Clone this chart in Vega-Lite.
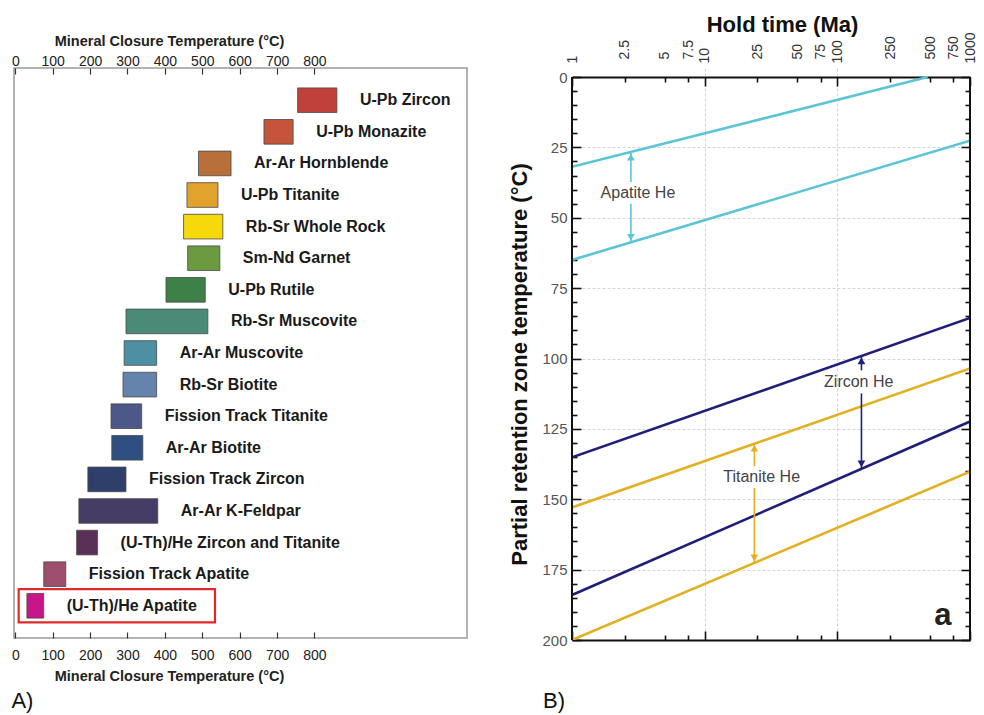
{
  "$schema": "https://vega.github.io/schema/vega-lite/v6.json",
  "background": "white",
  "padding": {"left": 10, "top": 13, "right": 0, "bottom": 0},
  "spacing": 40,
  "resolve": {"scale": {"color": "independent"}},
  "config": {"font": "Liberation Sans", "view": {"stroke": null}},
  "datasets": {
    "closure": [
      {"name": "U-Pb Zircon", "lo": 755, "hi": 860},
      {"name": "U-Pb Monazite", "lo": 665, "hi": 743},
      {"name": "Ar-Ar Hornblende", "lo": 490, "hi": 577},
      {"name": "U-Pb Titanite", "lo": 459, "hi": 542},
      {"name": "Rb-Sr Whole Rock", "lo": 450, "hi": 555},
      {"name": "Sm-Nd Garnet", "lo": 461, "hi": 547},
      {"name": "U-Pb Rutile", "lo": 403, "hi": 508},
      {"name": "Rb-Sr Muscovite", "lo": 296, "hi": 515},
      {"name": "Ar-Ar Muscovite", "lo": 291, "hi": 378},
      {"name": "Rb-Sr Biotite", "lo": 288, "hi": 378},
      {"name": "Fission Track Titanite", "lo": 256, "hi": 338},
      {"name": "Ar-Ar Biotite", "lo": 258, "hi": 341},
      {"name": "Fission Track Zircon", "lo": 194, "hi": 296},
      {"name": "Ar-Ar K-Feldpar", "lo": 170, "hi": 381},
      {"name": "(U-Th)/He Zircon and Titanite", "lo": 164, "hi": 220},
      {"name": "Fission Track Apatite", "lo": 76, "hi": 135},
      {"name": "(U-Th)/He Apatite", "lo": 31, "hi": 76}
    ],
    "prz": [
      {"line": "Apatite upper", "mineral": "Apatite", "t": 1, "T": 31.9},
      {"line": "Apatite upper", "mineral": "Apatite", "t": 480, "T": 0},
      {"line": "Apatite lower", "mineral": "Apatite", "t": 1, "T": 65.0},
      {"line": "Apatite lower", "mineral": "Apatite", "t": 1000, "T": 22.6},
      {"line": "Zircon upper", "mineral": "Zircon", "t": 1, "T": 135.1},
      {"line": "Zircon upper", "mineral": "Zircon", "t": 1000, "T": 85.6},
      {"line": "Zircon lower", "mineral": "Zircon", "t": 1, "T": 184.0},
      {"line": "Zircon lower", "mineral": "Zircon", "t": 1000, "T": 122.4},
      {"line": "Titanite upper", "mineral": "Titanite", "t": 1, "T": 152.9},
      {"line": "Titanite upper", "mineral": "Titanite", "t": 1000, "T": 103.5},
      {"line": "Titanite lower", "mineral": "Titanite", "t": 1, "T": 200},
      {"line": "Titanite lower", "mineral": "Titanite", "t": 1000, "T": 140.2}
    ],
    "arrows": [
      {"mineral": "Apatite", "t": 2.78, "T1": 26.7, "T2": 37.3, "end": "up"},
      {"mineral": "Apatite", "t": 2.78, "T1": 45.0, "T2": 58.7, "end": "down"},
      {"mineral": "Zircon", "t": 152, "T1": 99.1, "T2": 104.2, "end": "up"},
      {"mineral": "Zircon", "t": 152, "T1": 112.4, "T2": 139.2, "end": "down"},
      {"mineral": "Titanite", "t": 23.7, "T1": 130.1, "T2": 138.3, "end": "up"},
      {"mineral": "Titanite", "t": 23.7, "T1": 146.0, "T2": 172.6, "end": "down"}
    ]
  },
  "hconcat": [
    {
      "width": 453,
      "height": 570,
      "view": {"stroke": "#9a9a9a", "strokeWidth": 1.5},
      "title": {"text": "A)", "orient": "bottom", "anchor": "start", "frame": "bounds", "fontSize": 22, "fontWeight": "normal", "color": "#111", "offset": 8},
      "resolve": {"axis": {"x": "independent"}},
      "layer": [
        {
          "data": {"name": "closure"},
          "mark": {"type": "bar", "stroke": "#4a4a4a", "strokeWidth": 0.8},
          "encoding": {
            "y": {"field": "name", "type": "nominal", "sort": null, "axis": null,
                  "scale": {"domain": ["U-Pb Zircon", "U-Pb Monazite", "Ar-Ar Hornblende", "U-Pb Titanite", "Rb-Sr Whole Rock", "Sm-Nd Garnet", "U-Pb Rutile", "Rb-Sr Muscovite", "Ar-Ar Muscovite", "Rb-Sr Biotite", "Fission Track Titanite", "Ar-Ar Biotite", "Fission Track Zircon", "Ar-Ar K-Feldpar", "(U-Th)/He Zircon and Titanite", "Fission Track Apatite", "(U-Th)/He Apatite"], "paddingInner": 0.22, "paddingOuter": 0.63}},
            "x": {"field": "lo", "type": "quantitative",
                  "scale": {"domain": [-3.5, 1208], "nice": false, "zero": false},
                  "axis": {"orient": "top", "values": [0, 100, 200, 300, 400, 500, 600, 700, 800], "title": "Mineral Closure Temperature (°C)", "titleFontSize": 14.5, "titleFontWeight": "bold", "titleColor": "#222", "titleX": 155, "titlePadding": 6, "labelFontSize": 14, "labelColor": "#222", "labelPadding": 6, "labelFlush": false, "tickSize": -6, "tickColor": "#333", "tickWidth": 1.2, "domain": false, "grid": false}},
            "x2": {"field": "hi"},
            "color": {"field": "name", "type": "nominal", "legend": null,
                      "scale": {"domain": ["U-Pb Zircon", "U-Pb Monazite", "Ar-Ar Hornblende", "U-Pb Titanite", "Rb-Sr Whole Rock", "Sm-Nd Garnet", "U-Pb Rutile", "Rb-Sr Muscovite", "Ar-Ar Muscovite", "Rb-Sr Biotite", "Fission Track Titanite", "Ar-Ar Biotite", "Fission Track Zircon", "Ar-Ar K-Feldpar", "(U-Th)/He Zircon and Titanite", "Fission Track Apatite", "(U-Th)/He Apatite"],
                                "range": ["#c0413b", "#c4553a", "#b86f3a", "#e3a22d", "#f6d90a", "#6b9a40", "#3d8048", "#4b8a76", "#4d8fa3", "#6483ad", "#4b5888", "#2f4f80", "#2f3f6c", "#463d66", "#5a3057", "#9c4e6c", "#c8168a"]}}
          }
        },
        {
          "data": {"name": "closure"},
          "mark": {"type": "text", "align": "left", "baseline": "middle", "dx": 23, "fontSize": 16, "fontWeight": "bold", "color": "#1a1a1a"},
          "encoding": {
            "y": {"field": "name", "type": "nominal", "sort": null, "axis": null},
            "x": {"field": "hi", "type": "quantitative",
                  "axis": {"orient": "bottom", "values": [0, 100, 200, 300, 400, 500, 600, 700, 800], "title": "Mineral Closure Temperature (°C)", "titleFontSize": 14.5, "titleFontWeight": "bold", "titleColor": "#222", "titleX": 155, "titlePadding": 7, "labelFontSize": 14, "labelColor": "#222", "labelPadding": 16, "labelFlush": false, "tickSize": -6, "tickColor": "#333", "tickWidth": 1.2, "domain": false, "grid": false}},
            "text": {"field": "name"}
          }
        },
        {
          "data": {"values": [{"name": "(U-Th)/He Apatite", "lo": 9, "hi": 534}]},
          "mark": {"type": "bar", "fill": "transparent", "stroke": "#e02a2a", "strokeWidth": 2.2, "height": {"band": 1.35}},
          "encoding": {
            "y": {"field": "name", "type": "nominal", "axis": null},
            "x": {"field": "lo", "type": "quantitative", "axis": null},
            "x2": {"field": "hi"}
          }
        }
      ]
    },
    {
      "width": 398,
      "height": 572,
      "title": {"text": "B)", "orient": "bottom", "anchor": "start", "frame": "bounds", "fontSize": 22, "fontWeight": "normal", "color": "#111", "offset": 43, "dx": 34},
      "resolve": {"axis": {"x": "independent", "y": "independent"}},
      "layer": [
        {
          "data": {"name": "prz"},
          "mark": {"type": "line", "strokeWidth": 2.6, "clip": true},
          "encoding": {
            "x": {"field": "t", "type": "quantitative",
                  "scale": {"type": "log", "domain": [1, 1000], "nice": false},
                  "axis": {"orient": "top", "offset": -9, "values": [1, 2.5, 5, 7.5, 10, 25, 50, 75, 100, 250, 500, 750, 1000], "labelAngle": -90, "labelFontSize": 14, "labelColor": "#333", "labelPadding": 23, "labelFlush": false, "labelExpr": "datum.value", "title": "Hold time (Ma)", "titleFontSize": 22, "titleFontWeight": "bold", "titleColor": "#111", "titleX": 210, "titlePadding": -5,
                           "tickColor": "#111", "tickWidth": 1.6, "tickSize": {"condition": {"test": "datum.value == 1 || datum.value == 10 || datum.value == 100 || datum.value == 1000", "value": -9}, "value": -5},
                           "domainColor": "#111", "domainWidth": 2,
                           "grid": true, "gridColor": "#d4d4d4", "gridDash": [3, 2], "gridOpacity": {"condition": {"test": "datum.value == 10 || datum.value == 100", "value": 1}, "value": 0}}},
            "y": {"field": "T", "type": "quantitative",
                  "scale": {"domain": [-3.2, 200], "reverse": true, "nice": false, "zero": false},
                  "axis": {"orient": "left", "values": [0, 5, 10, 15, 20, 25, 30, 35, 40, 45, 50, 55, 60, 65, 70, 75, 80, 85, 90, 95, 100, 105, 110, 115, 120, 125, 130, 135, 140, 145, 150, 155, 160, 165, 170, 175, 180, 185, 190, 195, 200],
                           "labelExpr": "datum.value % 25 == 0 ? datum.label : ''", "labelFontSize": 15, "labelColor": "#555", "labelPadding": 14, "labelFlush": false,
                           "title": "Partial retention zone temperature (°C)", "titleFontSize": 22, "titleFontWeight": "bold", "titleColor": "#111", "titlePadding": 10, "titleY": 296,
                           "tickColor": "#111", "tickWidth": 1.6, "tickSize": {"condition": {"test": "datum.value % 25 == 0", "value": -9}, "value": -5},
                           "domain": false,
                           "grid": true, "gridColor": "#d4d4d4", "gridDash": [3, 2], "gridOpacity": {"condition": {"test": "datum.value % 25 == 0 && datum.value > 0 && datum.value < 200", "value": 1}, "value": 0}}},
            "detail": {"field": "line"},
            "color": {"field": "mineral", "type": "nominal", "legend": null,
                      "scale": {"domain": ["Apatite", "Zircon", "Titanite"], "range": ["#5bc5d6", "#1f1f7a", "#e2b020"]}}
          }
        },
        {
          "data": {"values": [{"t": 1, "T1": 0, "T2": 200}, {"t": 1000, "T1": 0, "T2": 200}]},
          "mark": {"type": "rule", "color": "#111", "strokeWidth": 2},
          "encoding": {
            "x": {"field": "t", "type": "quantitative",
                  "axis": {"orient": "bottom", "values": [1, 2.5, 5, 7.5, 10, 25, 50, 75, 100, 250, 500, 750, 1000], "labels": false, "title": null,
                           "tickColor": "#111", "tickWidth": 1.6, "tickSize": {"condition": {"test": "datum.value == 1 || datum.value == 10 || datum.value == 100 || datum.value == 1000", "value": -9}, "value": -5},
                           "domainColor": "#111", "domainWidth": 2, "grid": false}},
            "y": {"field": "T1", "type": "quantitative",
                  "axis": {"orient": "right", "values": [0, 5, 10, 15, 20, 25, 30, 35, 40, 45, 50, 55, 60, 65, 70, 75, 80, 85, 90, 95, 100, 105, 110, 115, 120, 125, 130, 135, 140, 145, 150, 155, 160, 165, 170, 175, 180, 185, 190, 195, 200], "labels": false, "title": null,
                           "tickColor": "#111", "tickWidth": 1.6, "tickSize": {"condition": {"test": "datum.value % 25 == 0", "value": -9}, "value": -5},
                           "domain": false, "grid": false}},
            "y2": {"field": "T2"}
          }
        },
        {
          "data": {"name": "arrows"},
          "mark": {"type": "rule", "strokeWidth": 1.6},
          "encoding": {
            "x": {"field": "t", "type": "quantitative", "axis": null},
            "y": {"field": "T1", "type": "quantitative", "axis": null},
            "y2": {"field": "T2"},
            "color": {"field": "mineral", "type": "nominal", "legend": null}
          }
        },
        {
          "data": {"name": "arrows"},
          "transform": [{"filter": "datum.end == 'up'"}],
          "mark": {"type": "point", "shape": "triangle-up", "filled": true, "opacity": 1, "size": 60, "yOffset": 5},
          "encoding": {
            "x": {"field": "t", "type": "quantitative", "axis": null},
            "y": {"field": "T1", "type": "quantitative", "axis": null},
            "color": {"field": "mineral", "type": "nominal", "legend": null}
          }
        },
        {
          "data": {"name": "arrows"},
          "transform": [{"filter": "datum.end == 'down'"}],
          "mark": {"type": "point", "shape": "triangle-down", "filled": true, "opacity": 1, "size": 60, "yOffset": -5},
          "encoding": {
            "x": {"field": "t", "type": "quantitative", "axis": null},
            "y": {"field": "T2", "type": "quantitative", "axis": null},
            "color": {"field": "mineral", "type": "nominal", "legend": null}
          }
        },
        {
          "data": {"values": [{"label": "Apatite He", "t": 3.14, "T": 41.2}, {"label": "Zircon He", "t": 145, "T": 108.4}, {"label": "Titanite He", "t": 26.9, "T": 142.2}]},
          "mark": {"type": "text", "align": "center", "baseline": "middle", "fontSize": 16, "color": "#444"},
          "encoding": {
            "x": {"field": "t", "type": "quantitative", "axis": null},
            "y": {"field": "T", "type": "quantitative", "axis": null},
            "text": {"field": "label"}
          }
        },
        {
          "data": {"values": [{"label": "a", "t": 625, "T": 191.5}]},
          "mark": {"type": "text", "align": "center", "baseline": "middle", "fontSize": 31, "fontWeight": "bold", "color": "#222"},
          "encoding": {
            "x": {"field": "t", "type": "quantitative", "axis": null},
            "y": {"field": "T", "type": "quantitative", "axis": null},
            "text": {"field": "label"}
          }
        }
      ]
    }
  ]
}
